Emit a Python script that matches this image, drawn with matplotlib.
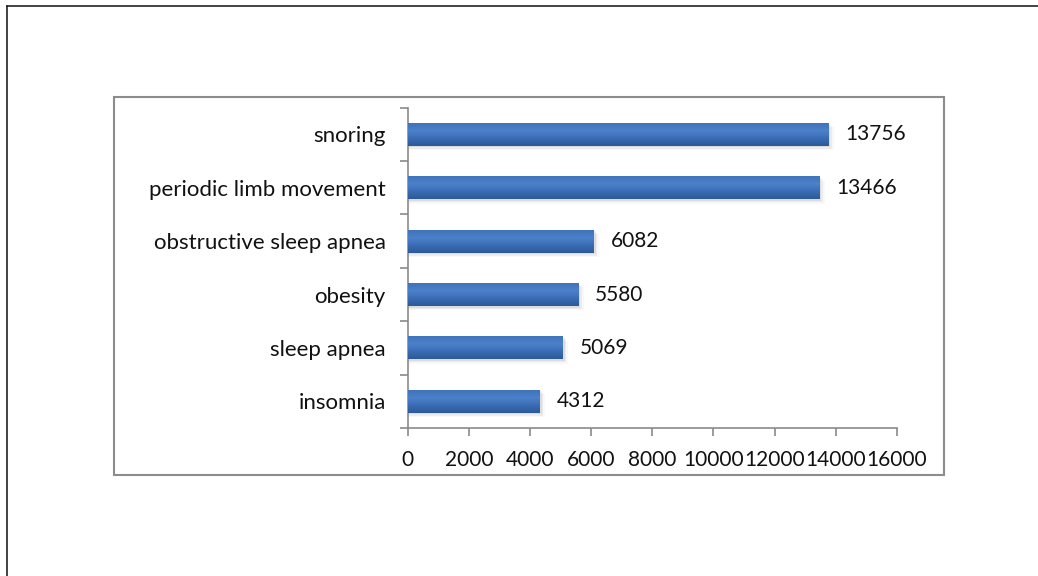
import numpy as np
import matplotlib.pyplot as plt
from matplotlib.lines import Line2D
from matplotlib.patches import Rectangle
from matplotlib.colors import LinearSegmentedColormap

plt.rcParams['font.family'] = ['Lato', 'DejaVu Sans']

# sleep-related terms and their counts, bottom to top
conditions = ['insomnia', 'sleep apnea', 'obesity', 'obstructive sleep apnea',
              'periodic limb movement', 'snoring']
counts = [4312, 5069, 5580, 6082, 13466, 13756]
x_ticks = [0, 2000, 4000, 6000, 8000, 10000, 12000, 14000, 16000]

fig = plt.figure(figsize=(10.38, 5.76), dpi=100)
ax = fig.add_axes([0.393, 0.257, 0.471, 0.556])

y = np.arange(len(conditions))
bar_h = 0.43

# soft drop shadow under each bar
for yi, v in zip(y, counts):
    for k, a in enumerate([0.10, 0.07, 0.04]):
        off = 0.03 + 0.025 * k
        ax.add_patch(Rectangle((0, yi - bar_h / 2 - off), v + 60 * (k + 1), bar_h,
                               facecolor='#555555', edgecolor='none', alpha=a, zorder=1))

bars = ax.barh(y, counts, height=bar_h, color='#3b6db3', edgecolor='none', zorder=2)

# vertical blue gradient inside each bar
grad = LinearSegmentedColormap.from_list('bluegrad', ['#2c5a98', '#3a6cb4', '#4c82cb', '#3f73bb'])
for b in bars:
    x0, y0, w, h = b.get_x(), b.get_y(), b.get_width(), b.get_height()
    im = ax.imshow(np.linspace(0, 1, 64).reshape(-1, 1), cmap=grad, aspect='auto',
                   extent=[x0, x0 + w, y0, y0 + h], origin='lower', zorder=3)
    im.set_clip_path(b)

for yi, v in zip(y, counts):
    ax.annotate(str(v), (v, yi), xytext=(12, 0), textcoords='offset points',
                va='center', ha='left', fontsize=15, color='#111111')

ax.set_xlim(0, 16000)
ax.set_ylim(-0.5, len(conditions) - 0.5)
ax.set_xticks(x_ticks)
ax.set_xticklabels([str(t) for t in x_ticks], fontsize=15)
ax.set_yticks(y)
ax.set_yticklabels(conditions, fontsize=16)
ax.set_yticks(np.arange(-0.5, len(conditions)), minor=True)

for s in ['top', 'right']:
    ax.spines[s].set_visible(False)
for s in ['left', 'bottom']:
    ax.spines[s].set_color('#8a8a8a')
    ax.spines[s].set_linewidth(1.2)

ax.tick_params(axis='y', which='major', length=0, pad=16, colors='#111111')
ax.tick_params(axis='y', which='minor', length=6, width=1.2, color='#8a8a8a')
ax.tick_params(axis='x', which='major', length=6, width=1.2, color='#8a8a8a',
               pad=10, labelcolor='#111111')

# chart-area frame and outer page frame
fig.add_artist(Rectangle((114 / 1038, 1 - 475 / 576), (944 - 114) / 1038, (475 - 97) / 576,
                         transform=fig.transFigure, fill=False, edgecolor='#8c8c8c',
                         linewidth=1.5))
fig.add_artist(Line2D([7 / 1038, 7 / 1038], [0, 1 - 6 / 576], transform=fig.transFigure,
                      color='#222222', linewidth=1.2))
fig.add_artist(Line2D([7 / 1038, 1], [1 - 6 / 576, 1 - 6 / 576], transform=fig.transFigure,
                      color='#222222', linewidth=1.2))

fig.savefig('out.png', dpi=100)
